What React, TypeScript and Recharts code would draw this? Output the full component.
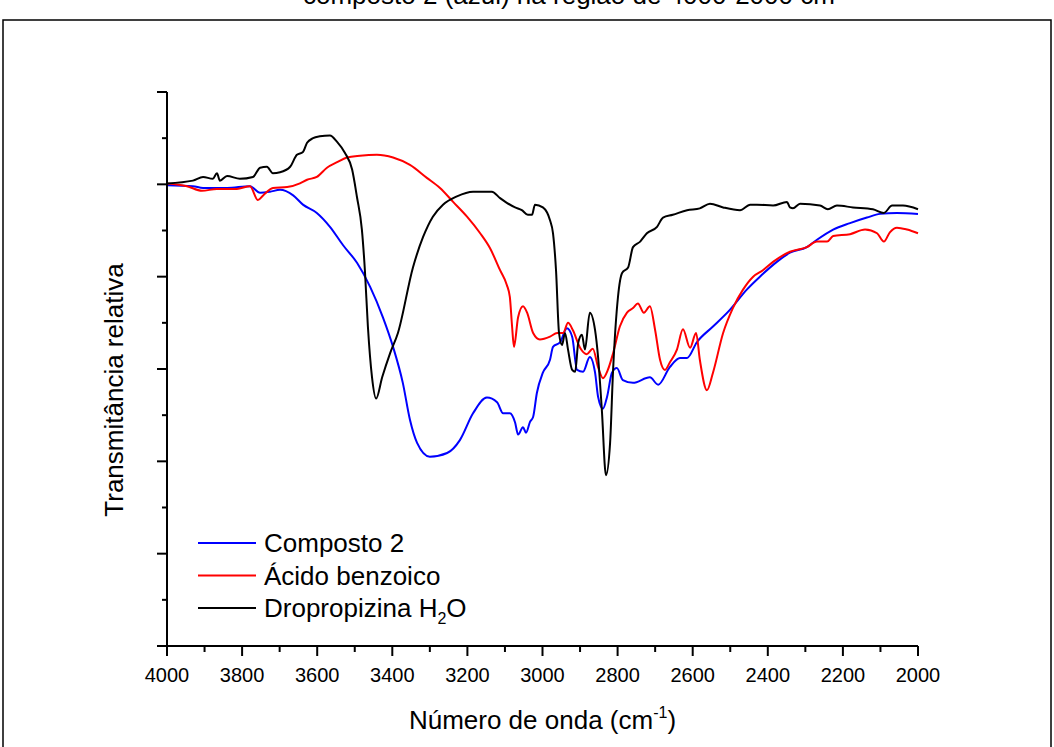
import React from 'react';
import { LineChart, Line, XAxis, YAxis } from 'recharts';

// Composto 2 (blue)
const compostoWavenumber = [
  4000, 3931, 3904, 3840, 3779, 3752, 3726, 3699, 3664, 3638, 3601, 3566, 3531, 3494, 3459,
  3425, 3398, 3372, 3353, 3334, 3300, 3254, 3220, 3185, 3148, 3121, 3105, 3087, 3073, 3065,
  3052, 3044, 3033, 3025, 3015, 2999, 2980, 2972, 2953, 2935, 2921, 2908, 2892, 2874, 2860,
  2852, 2839, 2828, 2815, 2802, 2786, 2759, 2714, 2692, 2661, 2634, 2615, 2589, 2546, 2501,
  2456, 2421, 2376, 2341, 2296, 2269, 2226, 2181, 2136, 2101, 2056, 2000,
];
const compostoT = [
  49.9, 49.8, 49.6, 49.6, 49.8, 49.1, 49.2, 49.4, 48.8, 47.8, 46.9, 45.4, 43.4, 41.5, 38.9,
  35.6, 32.4, 28.5, 24.5, 22.0, 20.5, 20.9, 22.3, 25.2, 26.9, 26.4, 25.2, 25.2, 24.2, 22.9,
  23.7, 23.1, 24.3, 24.8, 27.4, 29.6, 31.0, 32.4, 32.9, 34.4, 33.5, 29.9, 29.7, 31.3, 29.6,
  27.0, 25.7, 27.0, 29.6, 30.1, 28.8, 28.5, 29.1, 28.3, 30.2, 31.2, 31.2, 32.9, 34.6, 36.4,
  38.6, 40.0, 41.6, 42.6, 43.2, 44.0, 45.1, 45.8, 46.4, 46.8, 46.9, 46.8,
];

// Ácido benzoico (red)
const acidoWavenumber = [
  4000, 3947, 3907, 3867, 3814, 3779, 3758, 3744, 3718, 3680, 3646, 3627, 3601, 3574, 3547,
  3521, 3486, 3441, 3398, 3353, 3308, 3273, 3238, 3201, 3166, 3140, 3113, 3095, 3087, 3081,
  3076, 3065, 3052, 3041, 3025, 3007, 2980, 2961, 2945, 2932, 2919, 2900, 2882, 2866, 2852,
  2839, 2826, 2812, 2794, 2775, 2759, 2746, 2730, 2714, 2700, 2687, 2674, 2661, 2642, 2626,
  2607, 2591, 2581, 2562, 2546, 2519, 2493, 2466, 2439, 2413, 2386, 2341, 2296, 2269, 2242,
  2226, 2181, 2141, 2109, 2091, 2075, 2056, 2029, 2000,
];
const acidoT = [
  50.1, 49.8, 49.3, 49.5, 49.5, 49.8, 48.3, 48.8, 49.6, 49.7, 50.1, 50.5, 50.8, 51.8, 52.4,
  52.9, 53.1, 53.2, 52.9, 52.1, 50.7, 49.6, 48.1, 46.5, 44.7, 43.1, 40.7, 39.1, 37.8, 34.6,
  32.4, 35.6, 36.8, 36.1, 33.9, 33.2, 33.5, 33.9, 33.9, 35.0, 34.2, 32.3, 31.6, 32.2, 30.2,
  29.0, 29.9, 31.7, 34.6, 36.1, 36.6, 37.1, 36.1, 36.8, 34.2, 31.0, 29.9, 30.7, 32.1, 34.3,
  32.3, 33.9, 31.0, 27.7, 29.6, 33.9, 36.6, 38.6, 40.0, 40.7, 41.6, 42.7, 43.2, 43.8, 43.8,
  44.4, 44.6, 45.1, 44.7, 43.8, 44.8, 45.3, 45.1, 44.7,
];

// Dropropizina H2O (black)
const dropropizinaWavenumber = [
  4000, 3931, 3904, 3878, 3867, 3859, 3840, 3806, 3771, 3752, 3734, 3718, 3699, 3672, 3654,
  3638, 3627, 3611, 3593, 3566, 3547, 3526, 3507, 3494, 3481, 3473, 3465, 3454, 3443, 3427,
  3406, 3385, 3345, 3318, 3292, 3265, 3228, 3185, 3135, 3113, 3095, 3073, 3055, 3039, 3028,
  3020, 2999, 2980, 2972, 2964, 2956, 2948, 2940, 2932, 2921, 2913, 2905, 2895, 2887, 2874,
  2860, 2852, 2842, 2831, 2820, 2812, 2799, 2788, 2772, 2759, 2740, 2722, 2695, 2679, 2653,
  2615, 2581, 2554, 2519, 2474, 2447, 2429, 2386, 2349, 2341, 2333, 2314, 2261, 2240, 2216,
  2173, 2120, 2091, 2069, 2040, 2000,
];
const dropropizinaT = [
  50.1, 50.4, 50.8, 50.6, 51.2, 50.4, 50.9, 50.6, 50.8, 51.8, 51.9, 51.2, 51.3, 51.9, 53.2,
  53.5, 54.5, 55.0, 55.2, 55.3, 54.6, 53.4, 51.6, 48.6, 45.1, 40.7, 34.6, 29.1, 26.8, 29.1,
  31.7, 33.9, 41.0, 44.3, 46.5, 47.8, 48.7, 49.2, 49.2, 48.5, 48.0, 47.5, 47.2, 46.7, 46.7,
  47.8, 47.5, 46.1, 44.7, 40.7, 33.9, 32.6, 33.9, 32.1, 29.9, 29.7, 32.8, 33.7, 32.1, 36.1,
  34.2, 31.3, 25.6, 18.5, 22.0, 29.9, 37.8, 40.4, 41.0, 43.2, 43.8, 44.7, 45.4, 46.4, 46.7,
  47.2, 47.4, 47.9, 47.5, 47.2, 47.8, 47.8, 47.7, 48.1, 47.5, 47.4, 47.9, 47.7, 47.3, 47.7,
  47.5, 47.3, 46.9, 47.7, 47.7, 47.3,
];

const xTicks = [
  4000, 3900, 3800, 3700, 3600, 3500, 3400, 3300, 3200, 3100, 3000,
  2900, 2800, 2700, 2600, 2500, 2400, 2300, 2200, 2100, 2000,
];
const yTicks = [0, 5, 10, 15, 20, 25, 30, 35, 40, 45, 50, 55, 60];

const zip = (xs: number[], ys: number[]) => xs.map((x, i) => ({ x, t: ys[i] }));

const series = [
  { key: 'composto', color: '#0000ff', data: zip(compostoWavenumber, compostoT) },
  { key: 'acido', color: '#ff0000', data: zip(acidoWavenumber, acidoT) },
  { key: 'dropropizina', color: '#000000', data: zip(dropropizinaWavenumber, dropropizinaT) },
];

const FONT = '"Liberation Sans", Arial, sans-serif';
const TICK = 10;

// tick lines are drawn here so majors and minors can have different lengths
const XTick = (props: any) => {
  const { x, y, payload } = props;
  const major = payload.value % 200 === 0;
  const axisY = y - TICK;
  return (
    <g>
      <line x1={x} x2={x} y1={axisY} y2={axisY + (major ? 10 : 6)} stroke="#000" strokeWidth={2} />
      {major && (
        <text x={x} y={axisY + 36} textAnchor="middle" fontSize={20} fontFamily={FONT} fill="#000">
          {payload.value}
        </text>
      )}
    </g>
  );
};

const YTick = (props: any) => {
  const { x, y, payload } = props;
  const major = payload.value % 10 === 0;
  const axisX = x + TICK;
  return (
    <line x1={axisX} x2={axisX - (major ? 10 : 5)} y1={y} y2={y} stroke="#000" strokeWidth={2} />
  );
};

const XTitle = (props: any) => {
  const { viewBox } = props;
  const cx = viewBox.x + viewBox.width / 2;
  return (
    <text x={cx} y={viewBox.y + 83} textAnchor="middle" fontSize={26} fontFamily={FONT} fill="#000">
      Número de onda (cm
      <tspan fontSize={16} dy={-11}>-1</tspan>
      <tspan dy={11}>)</tspan>
    </text>
  );
};

const YTitle = (props: any) => {
  const { viewBox } = props;
  const cx = viewBox.x + viewBox.width - 44;
  const cy = 390;
  return (
    <text
      x={cx}
      y={cy}
      transform={`rotate(-90, ${cx}, ${cy})`}
      textAnchor="middle"
      fontSize={26}
      fontFamily={FONT}
      fill="#000"
    >
      Transmitância relativa
    </text>
  );
};

const legendRows = [
  { color: '#0000ff', label: <>Composto 2</> },
  { color: '#ff0000', label: <>Ácido benzoico</> },
  {
    color: '#000000',
    label: (
      <>
        Dropropizina H<tspan fontSize={16} dy={7}>2</tspan>
        <tspan dy={-7}>O</tspan>
      </>
    ),
  },
];

export default function App() {
  return (
    <div style={{ position: 'absolute', left: 0, top: 0, width: 1054, height: 747, background: '#fff' }}>
      <LineChart width={1054} height={747} margin={{ top: 92, right: 136, bottom: 41, left: 107 }}>
        <XAxis
          dataKey="x"
          type="number"
          domain={[2000, 4000]}
          reversed
          ticks={xTicks}
          interval={0}
          height={60}
          tickSize={TICK}
          tickMargin={0}
          tickLine={false}
          tick={<XTick />}
          axisLine={{ stroke: '#000', strokeWidth: 2 }}
          allowDuplicatedCategory={false}
          label={<XTitle />}
        />
        <YAxis
          type="number"
          domain={[0, 60]}
          ticks={yTicks}
          interval={0}
          width={60}
          tickSize={TICK}
          tickMargin={0}
          tickLine={false}
          tick={<YTick />}
          axisLine={{ stroke: '#000', strokeWidth: 2 }}
          label={<YTitle />}
        />
        {series.map((s) => (
          <Line
            key={s.key}
            data={s.data}
            dataKey="t"
            type="monotone"
            stroke={s.color}
            strokeWidth={2}
            dot={false}
            activeDot={false}
            isAnimationActive={false}
          />
        ))}
      </LineChart>
      <svg
        width={1054}
        height={747}
        style={{ position: 'absolute', left: 0, top: 0, pointerEvents: 'none' }}
      >
        <rect x={3} y={20} width={1048} height={760} fill="none" stroke="#000" strokeWidth={1.5} />
        <text x={303} y={4} fontSize={26} fontFamily={FONT} fill="#000">
          composto 2 (azul) na região de 4000-2000 cm
          <tspan fontSize={16} dy={-11}>-1</tspan>
        </text>
        {legendRows.map((row, i) => (
          <g key={i}>
            <line x1={198} x2={256} y1={543 + i * 32.5} y2={543 + i * 32.5} stroke={row.color} strokeWidth={2} />
            <text x={264} y={543 + i * 32.5 + 9} fontSize={26} fontFamily={FONT} fill="#000">
              {row.label}
            </text>
          </g>
        ))}
      </svg>
    </div>
  );
}
